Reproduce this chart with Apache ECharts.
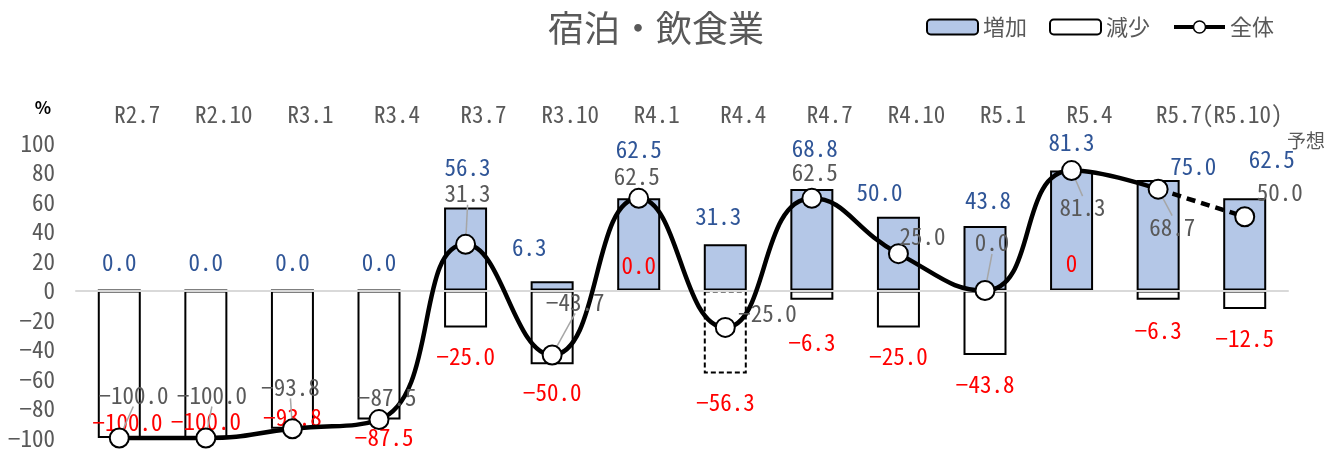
<!DOCTYPE html>
<html>
<head>
<meta charset="utf-8">
<script src="https://cdn.jsdelivr.net/npm/echarts@6/dist/echarts.min.js"></script>
<style>
  html, body { margin: 0; padding: 0; background: #fff; }
  #chart { width: 1343px; height: 452px; }
</style>
</head>
<body>
<div id="chart"></div>
<script>
// ---- data ----
const categories = ['R2.7', 'R2.10', 'R3.1', 'R3.4', 'R3.7', 'R3.10', 'R4.1', 'R4.4', 'R4.7', 'R4.10', 'R5.1', 'R5.4', 'R5.7', 'R5.10'];
const periodLabels = ['R2.7', 'R2.10', 'R3.1', 'R3.4', 'R3.7', 'R3.10', 'R4.1', 'R4.4', 'R4.7', 'R4.10', 'R5.1', 'R5.4', 'R5.7(R5.10)', ''];
const increase = [0.0, 0.0, 0.0, 0.0, 56.3, 6.3, 62.5, 31.3, 68.8, 50.0, 43.8, 81.3, 75.0, 62.5];
const decrease = [-100.0, -100.0, -93.8, -87.5, -25.0, -50.0, 0.0, -56.3, -6.3, -25.0, -43.8, 0, -6.3, -12.5];
const decreaseLabelDigits = [1, 1, 1, 1, 1, 1, 1, 1, 1, 1, 1, 0, 1, 1];
const overall = [-100.0, -100.0, -93.8, -87.5, 31.3, -43.7, 62.5, -25.0, 62.5, 25.0, 0.0, 81.3, 68.7, 50.0];
const forecastStart = 12;      // the segment from this point on is the forecast (dashed)
const dashedDecreaseIdx = [7];  // decrease bar drawn with a dashed outline
const leaderIdx = [0, 1, 2, 4, 5, 10, 11, 12];

// label placement (dx, dy from the value point of each mark)
const incOffsets = [[0,-27],[0,-27],[0,-27],[0,-27],[2,-40],[-23,-34],[0,-49],[-7,-28],[3,-41],[-19,-24],[3,-26],[0,-28],[35,-14],[27,-39]];
const decOffsets = [[8,-16],[0,-17],[0,-12],[5,18],[0,29],[0,28],[0,-26],[0,29],[0,42],[0,29],[0,29],[0,-28],[0,30],[0,29]];
const totOffsets = [[14,-43],[6,-43],[-2,-42],[8,-22],[2,-51],[23,-53],[-2,-22],[42,-14],[3,-26],[24,-17],[7,-48],[11,37],[14,38],[35,-24]];

// ---- fonts ----
function fontAvailable(name) {
  const ctx = document.createElement('canvas').getContext('2d');
  const probe = 'R2.10(R5.10)0123456789-%';
  let diff = false;
  ['monospace', 'serif', 'sans-serif'].forEach(function (base) {
    ctx.font = '40px ' + base;
    const a = ctx.measureText(probe).width;
    ctx.font = '40px "' + name + '", ' + base;
    const b = ctx.measureText(probe).width;
    if (Math.abs(a - b) > 0.5) diff = true;
  });
  return diff;
}
const monoCJK = fontAvailable('Noto Sans Mono CJK JP');
const NUM_FONT = monoCJK ? '"Noto Sans Mono CJK JP", "DejaVu Sans Mono", monospace' : '"DejaVu Sans Mono", monospace';
const NUM_SIZE = monoCJK ? 23 : 19.5;
const JP_FONT = '"Noto Sans CJK JP", "Noto Sans", sans-serif';

const GRAY = '#595959';
const BLUE_TEXT = '#2F5597';
const RED = '#FF0000';
const BAR_BLUE = '#B4C7E7';

const fmt = function (v, digits) {
  return v.toFixed(digits).replace('-', '\u2212');
};

function barLayout(offsets, atBottom) {
  return function (p) {
    const r = p.rect, o = offsets[p.dataIndex];
    const cx = r.x + r.width / 2;
    const cy = atBottom ? r.y + r.height : r.y;
    return { x: cx + o[0], y: cy + o[1], align: 'center', verticalAlign: 'middle' };
  };
}
function pointLayout(p) {
  const r = p.rect, o = totOffsets[p.dataIndex];
  return { x: r.x + r.width / 2 + o[0], y: r.y + r.height / 2 + o[1], align: 'center', verticalAlign: 'middle' };
}

const numLabel = { show: true, fontFamily: NUM_FONT, fontSize: NUM_SIZE };

const solidData = overall.map(function (v, i) {
  return {
    value: i <= forecastStart ? v : null,
    labelLine: { show: leaderIdx.indexOf(i) >= 0 }
  };
});
const dashedData = overall.map(function (v, i) {
  return {
    value: i >= forecastStart ? v : null,
    label: { show: i > forecastStart },
    symbol: i > forecastStart ? 'circle' : 'none'
  };
});

const chart = echarts.init(document.getElementById('chart'), null, { renderer: 'canvas' });
chart.setOption({
  animation: false,
  backgroundColor: '#fff',
  title: {
    text: '宿泊・飲食業',
    left: 543, top: 5,
    textStyle: { fontFamily: JP_FONT, fontSize: 36, fontWeight: 'normal', color: GRAY }
  },
  legend: {
    data: [
      { name: '増加' },
      { name: '減少' },
      { name: '全体', lineStyle: { width: 4 }, itemStyle: { borderWidth: 1.5 } }
    ],
    left: 921, top: 11,
    itemWidth: 51, itemHeight: 15, itemGap: 22,
    textStyle: { fontFamily: JP_FONT, fontSize: 22, color: GRAY }
  },
  grid: { left: 76, right: 55, top: 143, bottom: 14, containLabel: false },
  xAxis: [
    {
      type: 'category', data: categories, position: 'bottom', z: 2,
      axisLine: { show: true, onZero: true, lineStyle: { color: '#D9D9D9', width: 2 } },
      axisTick: { show: false }, axisLabel: { show: false }, splitLine: { show: false }
    },
    {
      type: 'category', data: periodLabels, position: 'top',
      axisLine: { show: false, onZero: false }, axisTick: { show: false }, splitLine: { show: false },
      axisLabel: {
        interval: 0, margin: 17, color: GRAY, fontFamily: NUM_FONT, fontSize: NUM_SIZE,
        formatter: function (v, i) { return v ? '{' + (i === 12 ? 'w' : 'n') + '|' + v + '}' : ''; },
        rich: {
          n: { padding: [0, 0, 0, 36], color: GRAY, fontFamily: NUM_FONT, fontSize: NUM_SIZE },
          w: { padding: [0, 0, 0, 122], color: GRAY, fontFamily: NUM_FONT, fontSize: NUM_SIZE }
        }
      }
    }
  ],
  yAxis: {
    type: 'value', min: -100, max: 100, interval: 20,
    name: '%', nameLocation: 'end', nameGap: 27,
    nameTextStyle: { color: '#000', fontWeight: 'bold', fontSize: 17, fontFamily: JP_FONT, align: 'right', padding: [0, 25, 0, 0] },
    axisLine: { show: false }, axisTick: { show: false }, splitLine: { show: false },
    axisLabel: {
      margin: 21, color: GRAY, fontFamily: NUM_FONT, fontSize: NUM_SIZE,
      formatter: function (v) { return String(v).replace('-', '\u2212'); }
    }
  },
  graphic: [{
    type: 'text', left: 1287, top: 131,
    style: { text: '予想', fill: GRAY, font: '19px ' + JP_FONT }
  }],
  series: [
    {
      name: '増加', type: 'bar', z: 1, barWidth: 43, barGap: '-100%',
      data: increase,
      itemStyle: { color: BAR_BLUE, borderColor: '#000', borderWidth: 2 },
      label: Object.assign({}, numLabel, {
        color: BLUE_TEXT,
        formatter: function (p) { return fmt(p.value, 1); }
      }),
      labelLayout: barLayout(incOffsets, false)
    },
    {
      name: '減少', type: 'bar', z: 1, barWidth: 43, barGap: '-100%',
      data: decrease.map(function (v, i) {
        return dashedDecreaseIdx.indexOf(i) >= 0
          ? { value: v, itemStyle: { borderType: [5, 3] } }
          : v;
      }),
      itemStyle: { color: '#fff', borderColor: '#000', borderWidth: 2 },
      label: Object.assign({}, numLabel, {
        color: RED,
        formatter: function (p) { return fmt(p.value, decreaseLabelDigits[p.dataIndex]); }
      }),
      labelLayout: barLayout(decOffsets, true)
    },
    {
      name: '全体(予想)', type: 'line', z: 3, clip: false, smooth: false,
      data: dashedData,
      symbolSize: 19,
      lineStyle: { color: '#000', width: 4.5, type: [9, 6] },
      itemStyle: { color: '#fff', borderColor: '#000', borderWidth: 2 },
      label: Object.assign({}, numLabel, {
        color: GRAY,
        formatter: function (p) { return fmt(p.value, 1); }
      }),
      labelLayout: pointLayout
    },
    {
      name: '全体', type: 'line', z: 4, clip: false, smooth: 0.5, smoothConstraint: false,
      data: solidData,
      symbol: 'circle', symbolSize: 19, showAllSymbol: true,
      lineStyle: { color: '#000', width: 4.5 },
      itemStyle: { color: '#fff', borderColor: '#000', borderWidth: 2 },
      label: Object.assign({}, numLabel, {
        color: GRAY,
        formatter: function (p) { return fmt(p.value, 1); }
      }),
      labelLine: { show: false, lineStyle: { color: '#A6A6A6', width: 1.5 } },
      labelLayout: pointLayout
    }
  ]
});
</script>
</body>
</html>
